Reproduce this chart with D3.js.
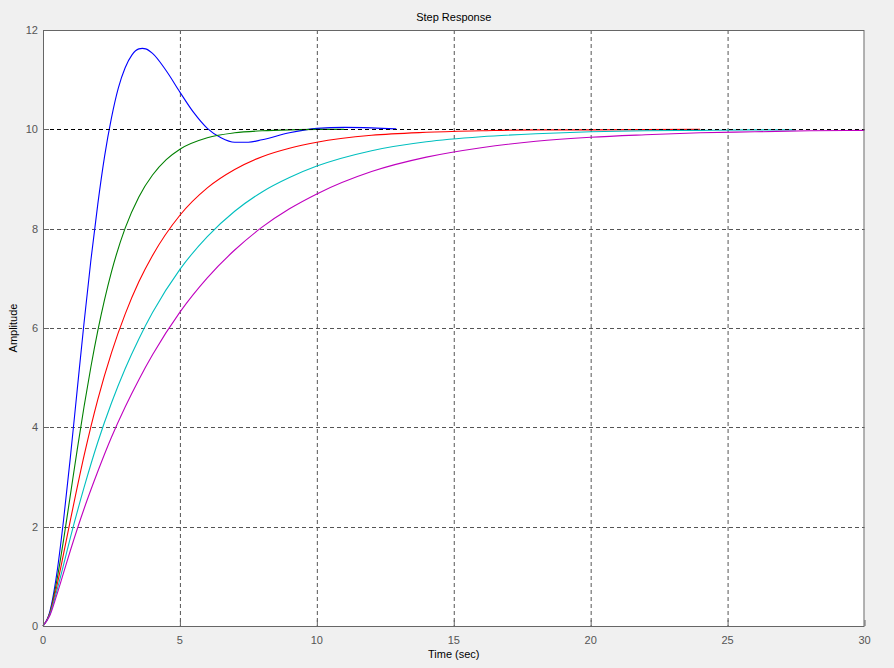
<!DOCTYPE html>
<html><head><meta charset="utf-8">
<script src="https://cdn.jsdelivr.net/npm/d3@7/dist/d3.min.js"></script>
<style>
html,body{margin:0;padding:0;background:#f0f0f0;}
svg{display:block;}
text{font-family:"Liberation Sans",Arial,sans-serif;}
</style></head>
<body><svg id="c" width="894" height="668"></svg>
<script>
// Data
const xTicks = [0, 5, 10, 15, 20, 25, 30];
const yTicks = [0, 2, 4, 6, 8, 10, 12];
const finalValue = 10;

const blueT = [0,0.25,0.5,0.75,1,1.25,1.5,1.75,2,2.25,2.5,2.75,3,3.25,3.5,3.63,3.75,4,4.5,5,5.5,6,6.5,7,7.5,8,9,10,11,12,12.9];
const blueY = [0,0.29,1.04,2.13,3.40,4.76,6.11,7.37,8.49,9.46,10.23,10.83,11.24,11.50,11.62,11.63,11.62,11.53,11.18,10.75,10.34,10.02,9.83,9.74,9.74,9.79,9.93,10.02,10.04,10.03,10.01];

const greenT = [0,0.25,0.5,0.75,1,1.25,1.5,1.75,2,2.5,3,3.5,4,4.5,5,6,7,8,9,10,11];
const greenY = [0,0.26,0.90,1.73,2.64,3.55,4.42,5.22,5.94,7.13,8.01,8.64,9.08,9.39,9.60,9.83,9.93,9.97,9.99,10.00,10.00];

const redT = [0,0.25,0.5,0.75,1,1.5,2,2.5,3,3.5,4,5,6,7,8,9,10,12,14,16,18,20,24];
const redY = [0,0.25,0.79,1.45,2.13,3.43,4.56,5.50,6.28,6.93,7.46,8.27,8.82,9.19,9.45,9.62,9.74,9.88,9.94,9.97,9.99,9.99,10.00];

const cyanT = [0,0.25,0.5,0.75,1,1.5,2,2.5,3,3.5,4,5,6,7,8,9,10,12,14,16,18,20,22,24,26,27.5];
const cyanY = [0,0.23,0.70,1.23,1.78,2.79,3.70,4.49,5.18,5.78,6.31,7.18,7.84,8.35,8.74,9.03,9.26,9.57,9.75,9.85,9.91,9.95,9.97,9.98,9.99,9.99];

const magT = [0,0.25,0.5,0.75,1,1.5,2,2.5,3,3.5,4,5,6,7,8,9,10,12,14,16,18,20,22,24,26,28,30];
const magY = [0,0.21,0.62,1.07,1.52,2.36,3.11,3.80,4.41,4.96,5.46,6.32,7.01,7.57,8.03,8.40,8.70,9.15,9.44,9.63,9.76,9.84,9.89,9.93,9.95,9.97,9.98];

const seriesList = [
  {t: blueT, y: blueY, color: "#0000ff"},
  {t: greenT, y: greenY, color: "#008000"},
  {t: redT, y: redY, color: "#ff0000"},
  {t: cyanT, y: cyanY, color: "#00bfbf"},
  {t: magT, y: magY, color: "#bf00bf"}
];

const svg = d3.select("#c");
const L = 43, R = 864.5, T = 30, B = 626;
const x = d3.scaleLinear().domain([0, 30]).range([L, R]);
const y = d3.scaleLinear().domain([0, 12]).range([B, T]);

svg.append("rect").attr("x", L).attr("y", T).attr("width", R - L).attr("height", B - T).attr("fill", "#fff");

// grid
const g = svg.append("g");
g.selectAll(".gx").data(xTicks.filter(d => d > 0 && d < 30)).join("line")
  .attr("x1", d => x(d) + 0.5).attr("x2", d => x(d) + 0.5).attr("y1", T).attr("y2", B)
  .attr("stroke", "#555").attr("stroke-width", 1).attr("stroke-dasharray", "4,3");
g.selectAll(".gy").data(yTicks.filter(d => d > 0 && d < 12 && d !== finalValue)).join("line")
  .attr("y1", d => Math.round(y(d)) + 0.5).attr("y2", d => Math.round(y(d)) + 0.5).attr("x1", L).attr("x2", R)
  .attr("stroke", "#555").attr("stroke-width", 1).attr("stroke-dasharray", "4,3");

// curves
const line = d3.line().x(d => x(d[0])).y(d => y(d[1])).curve(d3.curveMonotoneX);
seriesList.forEach(s => {
  svg.append("path").datum(s.t.map((t, i) => [t, s.y[i]]))
    .attr("d", line).attr("fill", "none").attr("stroke", s.color).attr("stroke-width", 1.1);
});

// steady-state line
svg.append("line").attr("x1", L).attr("x2", R)
  .attr("y1", Math.round(y(finalValue)) + 0.5).attr("y2", Math.round(y(finalValue)) + 0.5)
  .attr("stroke", "#000").attr("stroke-width", 1).attr("stroke-dasharray", "4,3");

// box
svg.append("rect").attr("x", L + 0.5).attr("y", T + 0.5).attr("width", R - L - 1).attr("height", B - T)
  .attr("fill", "none").attr("stroke", "#666").attr("stroke-width", 1);

// ticks (inside)
svg.selectAll(".tx").data(xTicks).join("line")
  .attr("x1", d => x(d) + 0.5).attr("x2", d => x(d) + 0.5).attr("y1", B).attr("y2", B - 6)
  .attr("stroke", "#666");
svg.selectAll(".ty").data(yTicks).join("line")
  .attr("y1", d => Math.round(y(d)) + 0.5).attr("y2", d => Math.round(y(d)) + 0.5).attr("x1", L).attr("x2", L + 6)
  .attr("stroke", "#666");

// tick labels
svg.selectAll(".lx").data(xTicks).join("text")
  .attr("x", d => x(d)).attr("y", B + 18).attr("text-anchor", "middle")
  .attr("font-size", 11).attr("fill", "#555").text(d => d);
svg.selectAll(".ly").data(yTicks).join("text")
  .attr("x", L - 5).attr("y", d => y(d) + 4).attr("text-anchor", "end")
  .attr("font-size", 11).attr("fill", "#555").text(d => d);

// titles
svg.append("text").attr("x", (L + R) / 2).attr("y", 21).attr("text-anchor", "middle")
  .attr("font-size", 11).attr("fill", "#000").text("Step Response");
svg.append("text").attr("x", (L + R) / 2).attr("y", 658).attr("text-anchor", "middle")
  .attr("font-size", 11).attr("fill", "#000").text("Time (sec)");
svg.append("text").attr("transform", `translate(17,${(T + B) / 2}) rotate(-90)`).attr("text-anchor", "middle")
  .attr("font-size", 11).attr("fill", "#000").text("Amplitude");
</script></body></html>
